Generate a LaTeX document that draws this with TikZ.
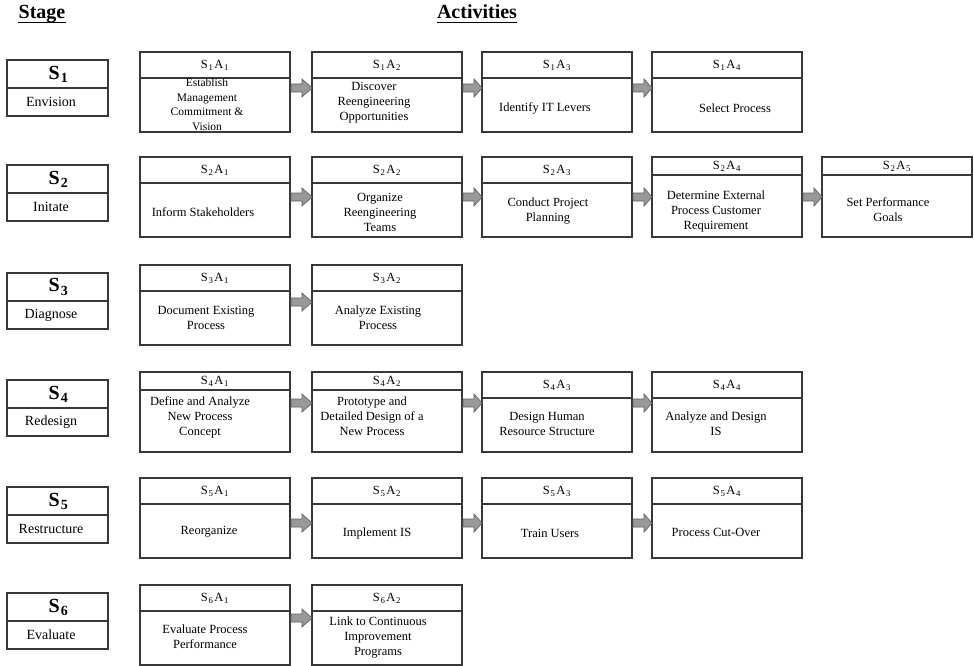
\documentclass[tikz,border=0pt]{standalone}
\usepackage{fontspec}
\setmainfont{Liberation Serif}
\usetikzlibrary{calc}

% S_i A_j label of an activity
\newcommand\sa[2]{S\kern0.8pt\textsubscript{#1}\kern0.8pt A\kern0.8pt\textsubscript{#2}}

% activity box: [header height] name, x, top, header, body x, body y, body text
\newcommand\act[8][26]{%
  \node[actbox] (#2) at (#3,#4) {};
  \draw[frame] ($(#2.north west)+(0,#1)$) -- ($(#2.north east)+(0,#1)$);
  \node[hdr] (#2-h) at ($(#2.north)+(0,#1/2+0.5)$) {#5};
  \node[body] (#2-b) at (#6,#7) {#8};
}

% stage box: name, top, number, stage name
\newcommand\stage[4]{%
  \node[stagebox] (#1) at (7,#2) {};
  \draw[frame] ($(#1.north west)+(0,28)$) -- ($(#1.north east)+(0,28)$);
  \node[stagenum] (#1-n) at ($(#1.north)+(1,14)$) {S\kern1pt\textsubscript{#3}};
  \node[stagename] (#1-t) at ($(#1.north)+(-6.5,42)$) {#4};
}

% grey block arrow between two boxes at height y
\newcommand\flowarrow[3]{%
  \draw[flow] ($(#1.east|-0,#3)+(1,-4)$) -- ($(#1.east|-0,#3)+(12,-4)$)
    -- ($(#1.east|-0,#3)+(12,-9)$) -- (#2.west|-0,#3)
    -- ($(#1.east|-0,#3)+(12,9)$) -- ($(#1.east|-0,#3)+(12,4)$)
    -- ($(#1.east|-0,#3)+(1,4)$) -- cycle;
}

\begin{document}
\begin{tikzpicture}[x=1pt,y=-1pt,
  frame/.style={draw=black!78, line width=1.2pt},
  actbox/.style={frame, anchor=north west, minimum width=150pt,
    minimum height=80pt, inner sep=0pt, outer sep=0pt},
  stagebox/.style={frame, anchor=north west, minimum width=101pt,
    minimum height=56pt, inner sep=0pt, outer sep=0pt},
  hdr/.style={font=\fontsize{12.5}{13}\selectfont, inner sep=0pt},
  body/.style={font=\fontsize{12.5}{15}\selectfont, align=center, inner sep=0pt},
  small body/.style={body, font=\fontsize{11.5}{14.5}\selectfont},
  stagenum/.style={font=\fontsize{20}{21}\selectfont\bfseries, inner sep=0pt},
  stagename/.style={font=\fontsize{14}{15}\selectfont, inner sep=0pt},
  title/.style={font=\fontsize{20}{22}\selectfont\bfseries, inner sep=0pt, anchor=base},
  flow/.style={fill=black!40, draw=black!62, line width=0.7pt, line join=miter},
]
\fill[white] (0,0) rectangle (974,666);
\useasboundingbox (0,0) rectangle (974,666);

% column titles
\node[title] (stagetitle) at (42,19) {Stage};
\node[title] (acttitle) at (477,19) {Activities};
\draw[line width=1.6pt] ($(stagetitle.base west)+(0,3.5)$) -- ($(stagetitle.base east)+(0,3.5)$);
\draw[line width=1.6pt] ($(acttitle.base west)+(0,3.5)$) -- ($(acttitle.base east)+(0,3.5)$);

% stages
\stage{st1}{60}{1}{Envision}
\stage{st2}{165}{2}{Initate}
\stage{st3}{273}{3}{Diagnose}
\stage{st4}{380}{4}{Redesign}
\stage{st5}{487}{5}{Restructure}
\stage{st6}{593}{6}{Evaluate}

% S1
\node[actbox] (s1a1) at (140,52) {};
\draw[frame] ($(s1a1.north west)+(0,26)$) -- ($(s1a1.north east)+(0,26)$);
\node[hdr] (s1a1-h) at ($(s1a1.north)+(0,13.5)$) {\sa11};
\node[small body] (s1a1-b) at (207,104.5) {Establish\\Management\\Commitment \&\\Vision};
\act{s1a2}{312}{52}{\sa12}{374}{103}{Discover\\Reengineering\\Opportunities}
\act{s1a3}{482}{52}{\sa13}{545}{108}{Identify IT Levers}
\act{s1a4}{652}{52}{\sa14}{735}{108}{Select Process}
\flowarrow{s1a1}{s1a2}{88}
\flowarrow{s1a2}{s1a3}{88}
\flowarrow{s1a3}{s1a4}{88}

% S2
\act{s2a1}{140}{157}{\sa21}{203}{212}{Inform Stakeholders}
\act{s2a2}{312}{157}{\sa22}{380}{212}{Organize\\Reengineering\\Teams}
\act{s2a3}{482}{157}{\sa23}{548}{211}{Conduct Project\\Planning}
\act[18]{s2a4}{652}{157}{\sa24}{716}{211}{Determine External\\Process Customer\\Requirement}
\act[18]{s2a5}{822}{157}{\sa25}{888}{210}{Set Performance\\Goals}
\flowarrow{s2a1}{s2a2}{197}
\flowarrow{s2a2}{s2a3}{197}
\flowarrow{s2a3}{s2a4}{197}
\flowarrow{s2a4}{s2a5}{197}

% S3
\act{s3a1}{140}{265}{\sa31}{206}{318}{Document Existing\\Process}
\act{s3a2}{312}{265}{\sa32}{378}{318}{Analyze Existing\\Process}
\flowarrow{s3a1}{s3a2}{302}

% S4
\act[18]{s4a1}{140}{372}{\sa41}{200}{417}{Define and Analyze\\New Process\\Concept}
\act[18]{s4a2}{312}{372}{\sa42}{372}{416}{Prototype and\\Detailed Design of a\\New Process}
\act{s4a3}{482}{372}{\sa43}{547}{424}{Design Human\\Resource Structure}
\act{s4a4}{652}{372}{\sa44}{716}{424}{Analyze and Design\\IS}
\flowarrow{s4a1}{s4a2}{403}
\flowarrow{s4a2}{s4a3}{403}
\flowarrow{s4a3}{s4a4}{403}

% S5
\act{s5a1}{140}{478}{\sa51}{209}{532}{Reorganize}
\act{s5a2}{312}{478}{\sa52}{377}{533}{Implement IS}
\act{s5a3}{482}{478}{\sa53}{550}{533}{Train Users}
\act{s5a4}{652}{478}{\sa54}{716}{532}{Process Cut-Over}
\flowarrow{s5a1}{s5a2}{523}
\flowarrow{s5a2}{s5a3}{523}
\flowarrow{s5a3}{s5a4}{523}

% S6
\act{s6a1}{140}{585}{\sa61}{205}{637}{Evaluate Process\\Performance}
\act{s6a2}{312}{585}{\sa62}{378}{638}{Link to Continuous\\Improvement\\Programs}
\flowarrow{s6a1}{s6a2}{618}
\end{tikzpicture}
\end{document}
